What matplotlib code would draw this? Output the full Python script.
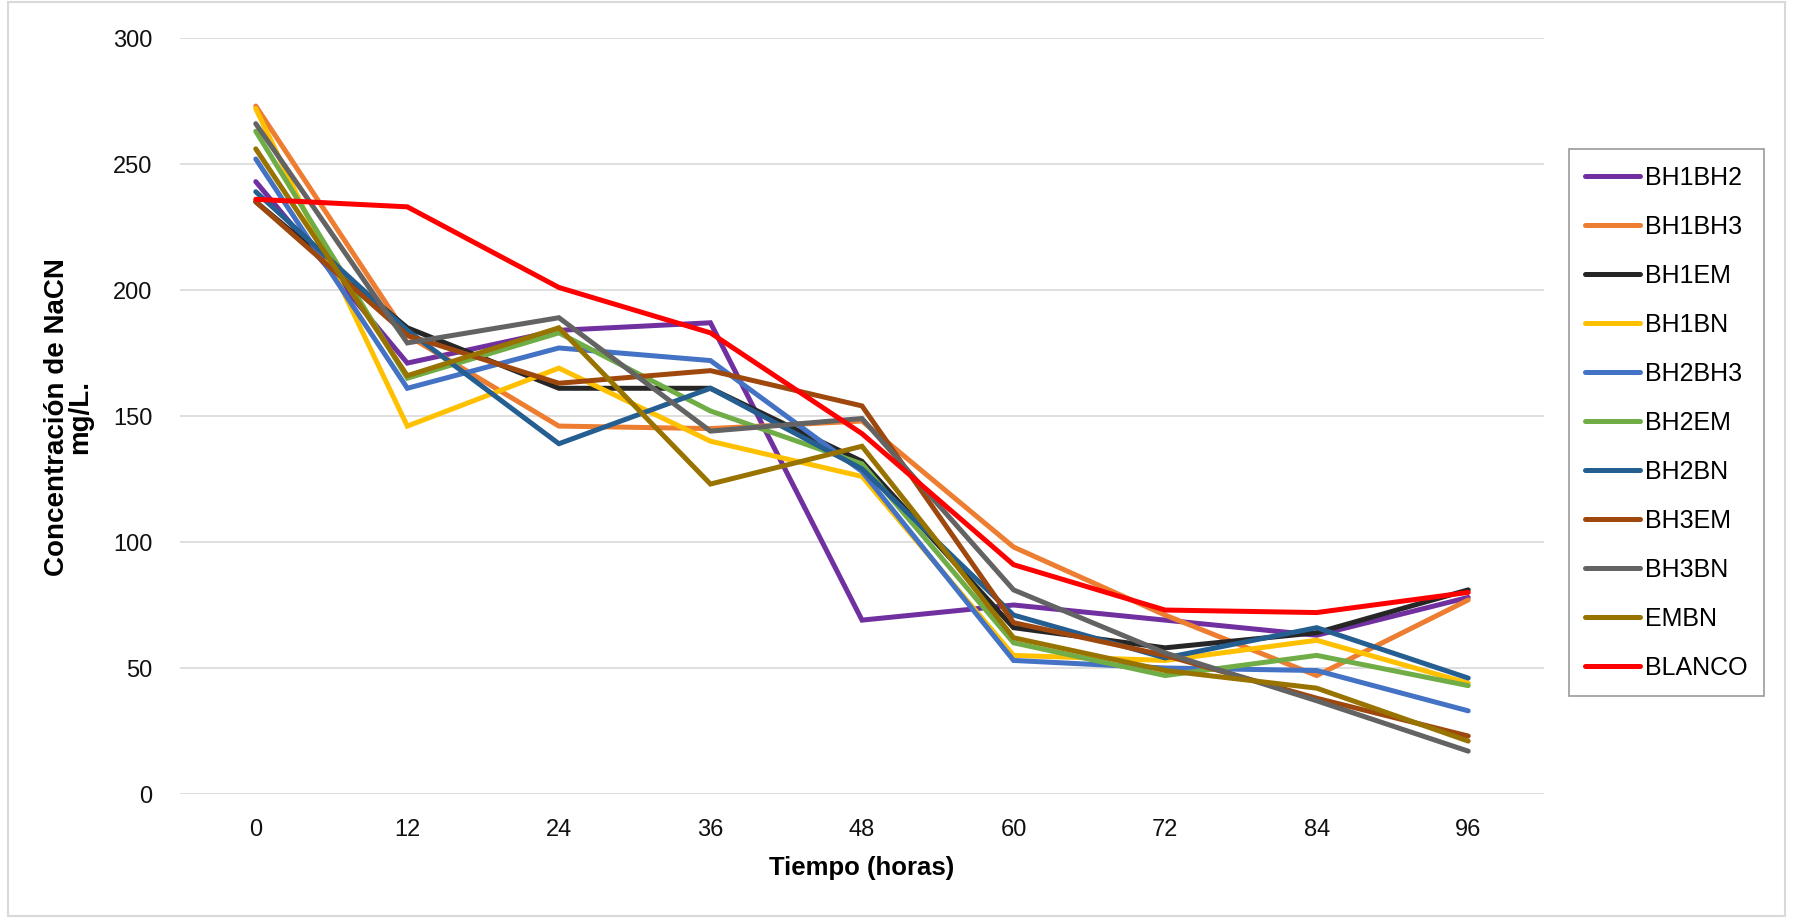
import matplotlib.pyplot as plt

# Datos
horas = [0, 12, 24, 36, 48, 60, 72, 84, 96]
bh1bh2 = [243, 171, 184, 187, 69, 75, 69, 63, 78]
bh1bh3 = [273, 182, 146, 145, 148, 98, 71, 47, 77]
bh1em = [235, 185, 161, 161, 132, 66, 58, 64, 81]
bh1bn = [272, 146, 169, 140, 126, 55, 53, 61, 44]
bh2bh3 = [252, 161, 177, 172, 128, 53, 50, 49, 33]
bh2em = [263, 165, 183, 152, 131, 60, 47, 55, 43]
bh2bn = [239, 184, 139, 161, 129, 71, 54, 66, 46]
bh3em = [235, 182, 163, 168, 154, 68, 55, 38, 23]
bh3bn = [266, 179, 189, 144, 149, 81, 56, 37, 17]
embn = [256, 166, 185, 123, 138, 62, 49, 42, 21]
blanco = [236, 233, 201, 183, 143, 91, 73, 72, 80]

series = [
    ('BH1BH2', bh1bh2, '#7030A0'),
    ('BH1BH3', bh1bh3, '#ED7D31'),
    ('BH1EM', bh1em, '#262626'),
    ('BH1BN', bh1bn, '#FFC000'),
    ('BH2BH3', bh2bh3, '#4472C4'),
    ('BH2EM', bh2em, '#70AD47'),
    ('BH2BN', bh2bn, '#255E91'),
    ('BH3EM', bh3em, '#9E480E'),
    ('BH3BN', bh3bn, '#636363'),
    ('EMBN', embn, '#997300'),
    ('BLANCO', blanco, '#FF0000'),
]

plt.rcParams['font.family'] = ['Liberation Sans', 'DejaVu Sans']

fig = plt.figure(figsize=(17.93, 9.2), dpi=100)
ax = fig.add_axes([180 / 1793, 1 - 795 / 920, (1544 - 180) / 1793, (795 - 39) / 920])

for nombre, valores, color in series:
    ax.plot(horas, valores, color=color, linewidth=3.6, label=nombre,
            solid_capstyle='round', solid_joinstyle='miter')

ax.set_xlim(-6, 102)
ax.set_ylim(0, 300)
ax.set_xticks(horas)
ax.set_yticks(range(0, 301, 50))
ax.tick_params(axis='both', length=0, labelsize=17, labelcolor='#111111')
ax.tick_params(axis='x', pad=17)
ax.tick_params(axis='y', pad=20)
ax.grid(axis='y', color='#D9D9D9', linewidth=1.2)
ax.set_axisbelow(True)
for s in ax.spines.values():
    s.set_visible(False)

ax.set_xlabel('Tiempo (horas)', fontsize=18.5, fontweight='bold', labelpad=11)
ax.set_ylabel('Concentración de NaCN\nmg/L.', fontsize=20, fontweight='bold',
              family=['Liberation Sans Narrow', 'Liberation Sans', 'DejaVu Sans'],
              linespacing=0.85, labelpad=14)

leg = fig.legend(loc='upper left', bbox_to_anchor=(1569 / 1793, 1 - 150 / 920),
                 borderaxespad=0, frameon=True, fancybox=False, fontsize=18,
                 handlelength=2.2, labelspacing=1.0, borderpad=0.65,
                 handletextpad=0.2)
leg.get_frame().set_edgecolor('#808080')
leg.get_frame().set_linewidth(1.2)

# borde del gráfico
fig.patches.append(plt.Rectangle((8 / 1793, 3 / 920), 1 - 16 / 1793, 1 - 6 / 920,
                                 transform=fig.transFigure, fill=False,
                                 edgecolor='#D9D9D9', linewidth=1.5))

plt.savefig('out.png', dpi=100)
